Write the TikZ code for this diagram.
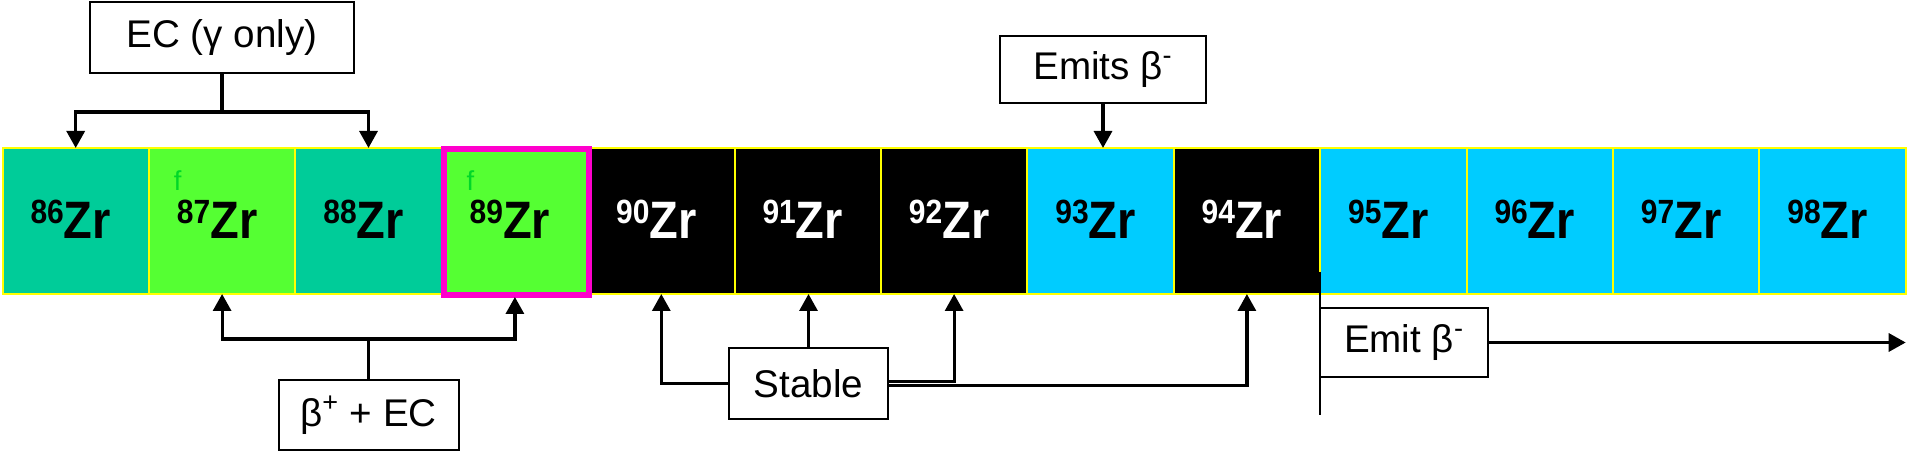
\documentclass[tikz,border=0pt]{standalone}
\usepackage{fontspec}
\setmainfont{Liberation Sans}
\usetikzlibrary{arrows.meta}
\definecolor{zrteal}{RGB}{0,204,153}
\definecolor{zrgreen}{RGB}{85,255,51}
\definecolor{zrcyan}{RGB}{0,204,255}
\definecolor{zrmag}{RGB}{255,0,204}
\definecolor{zryel}{RGB}{255,255,0}
\definecolor{zrf}{RGB}{0,215,40}
\newcommand{\zrl}[1]{\scalebox{1}[1.12]{\raisebox{7pt}{\fontsize{15pt}{15pt}\selectfont #1}Zr}\kern5pt}
\begin{document}
\begin{tikzpicture}[x=0.5pt,y=-0.5pt,
  cell/.style={draw=zryel, line width=1pt, minimum width=73.2pt, minimum height=73pt,
    inner sep=0pt, outer sep=0pt, text height=18pt,
    font=\fontsize{23.5pt}{26pt}\selectfont\bfseries},
  ftxt/.style={inner sep=0pt, outer sep=0pt, text=zrf, font=\fontsize{13.7pt}{16pt}\selectfont},
  lbox/.style={draw=black, line width=1pt, fill=white, inner sep=0pt, outer sep=0pt,
    font=\fontsize{19.3pt}{22pt}\selectfont},
  conn/.style={line width=1.6pt, draw=black},
  arr/.style={conn, -{Triangle[width=9pt,length=8.5pt]}},
  vline/.style={line width=1pt, draw=black}
]
\useasboundingbox (0,0) rectangle (1925,464);
\fill[white] (0,0) rectangle (1925,464);

% isotope cells
\node[cell,fill=zrteal] (c86) at (75.7,221) {\zrl{86}};
\node[cell,fill=zrgreen] (c87) at (222.1,221) {\zrl{87}};
\node[cell,fill=zrteal] (c88) at (368.5,221) {\zrl{88}};
\node[cell,fill=zrgreen] (c89) at (514.9,221) {\zrl{89}};
\node[cell,fill=black,text=white] (c90) at (661.3,221) {\zrl{90}};
\node[cell,fill=black,text=white] (c91) at (807.7,221) {\zrl{91}};
\node[cell,fill=black,text=white] (c92) at (954.1,221) {\zrl{92}};
\node[cell,fill=zrcyan] (c93) at (1100.5,221) {\zrl{93}};
\node[cell,fill=black,text=white] (c94) at (1246.9,221) {\zrl{94}};
\node[cell,fill=zrcyan] (c95) at (1393.3,221) {\zrl{95}};
\node[cell,fill=zrcyan] (c96) at (1539.7,221) {\zrl{96}};
\node[cell,fill=zrcyan] (c97) at (1686.1,221) {\zrl{97}};
\node[cell,fill=zrcyan] (c98) at (1832.5,221) {\zrl{98}};

% small f marks
\node[ftxt, anchor=north west] (f87) at ([xshift=12.5pt,yshift=-11.5pt]c87.north west) {f};
\node[ftxt, anchor=north west] (f89) at ([xshift=12.5pt,yshift=-11.5pt]c89.north west) {f};

% highlight frame
\draw[line width=3pt, draw=zrmag] ([xshift=1pt,yshift=-0.5pt]c89.south west) rectangle ([xshift=0.5pt,yshift=-0.5pt]c89.north east);

% label boxes
\node[lbox, minimum width=132pt, minimum height=35.5pt] (ec) at (222,37.5) {EC (γ only)};
\node[lbox, minimum width=90pt, minimum height=35pt] (bp) at (368.5,415) {β\textsuperscript{+} + EC};
\node[lbox, minimum width=79.5pt, minimum height=35.5pt] (st) at (808.5,383.5) {Stable};
\node[lbox, minimum width=103pt, minimum height=33.5pt] (em) at (1103,69.5) {Emits β\textsuperscript{-}};

% EC connectors
\coordinate (ecj) at ([yshift=-19.5pt]ec.south);
\draw[conn] (ec.south) -- (ecj);
\draw[arr] (ecj) -| (c86.north);
\draw[arr] (ecj) -| (c88.north);

% beta+ connectors
\coordinate (bpj) at ([yshift=20.5pt]bp.north);
\draw[conn] (bp.north) -- (bpj);
\draw[arr] (bpj) -| (c87.south);
\draw[arr] (bpj) -| ([yshift=-1.5pt]c89.south);

% stable connectors
\draw[arr] (st.north) -- (st.north |- c91.south);
\draw[arr] (st.west) -| (c90.south);
\draw[arr] ([yshift=1.1pt]st.east) -| (c92.south);
\draw[arr] ([yshift=-1.1pt]st.east) -| (c94.south);

% emits beta- connector
\draw[arr] (em.south) -- (em.south |- c93.north);

% emit beta- region
\draw[vline] ([yshift=11pt]c95.south west) -- ([yshift=-60.5pt]c95.south west);
\node[lbox, anchor=north west, minimum width=84pt, minimum height=34.5pt] (emit) at ([yshift=-7pt]c95.south west) {Emit β\textsuperscript{-}};
\draw[arr] (emit.east) -- (emit.east -| c98.east);
\end{tikzpicture}
\end{document}
